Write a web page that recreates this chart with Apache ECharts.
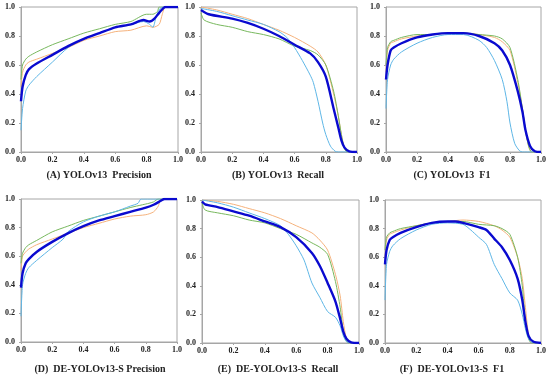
<!DOCTYPE html>
<html><head><meta charset="utf-8">
<script src="https://cdn.jsdelivr.net/npm/echarts@6/dist/echarts.min.js"></script>
<style>html,body{margin:0;padding:0;background:#fff}#c{width:550px;height:379px}</style>
</head><body><div id="c"></div>
<script>
// Panel titles
const titles = ["(A) YOLOv13  Precision", "(B) YOLOv13  Recall", "(C) YOLOv13  F1",
  "(D)  DE-YOLOv13-S Precision", "(E)  DE-YOLOv13-S  Recall", "(F)  DE-YOLOv13-S  F1"];
const tickLabels = ["0.0", "0.2", "0.4", "0.6", "0.8", "1.0"];

// Panel A: YOLOv13 Precision  ([confidence, value])
const aOrange = [[0,0.45],[0.01,0.55],[0.03,0.6],[0.05,0.62],[0.1,0.64],[0.2,0.68],[0.3,0.72],[0.4,0.77],[0.5,0.8],[0.6,0.83],[0.7,0.84],[0.8,0.87],[0.84,0.86],[0.88,0.88],[0.9,0.95],[0.92,1.0],[1,1]];
const aGreen = [[0,0.5],[0.01,0.6],[0.03,0.64],[0.05,0.66],[0.1,0.69],[0.2,0.74],[0.3,0.78],[0.4,0.82],[0.5,0.85],[0.6,0.88],[0.7,0.9],[0.8,0.95],[0.84,0.95],[0.87,0.97],[0.88,1.0],[1,1]];
const aLight = [[0,0.15],[0.01,0.3],[0.03,0.42],[0.05,0.46],[0.1,0.52],[0.2,0.62],[0.3,0.72],[0.4,0.78],[0.5,0.82],[0.6,0.86],[0.7,0.88],[0.78,0.9],[0.82,0.88],[0.84,0.86],[0.86,0.93],[0.88,0.98],[0.9,1.0],[1,1]];
const aMean = [[0,0.35],[0.01,0.45],[0.03,0.53],[0.05,0.57],[0.1,0.61],[0.2,0.67],[0.3,0.73],[0.4,0.78],[0.5,0.82],[0.6,0.86],[0.7,0.88],[0.78,0.91],[0.82,0.9],[0.85,0.92],[0.88,0.96],[0.92,1.0],[1,1]];

// Panel B: YOLOv13 Recall
const bOrange = [[0,1.0],[0.1,0.98],[0.2,0.95],[0.3,0.92],[0.4,0.88],[0.5,0.84],[0.6,0.79],[0.7,0.73],[0.75,0.69],[0.8,0.6],[0.85,0.4],[0.88,0.25],[0.9,0.12],[0.92,0.03],[0.94,0],[1,0]];
const bGreen = [[0,0.96],[0.02,0.91],[0.1,0.88],[0.2,0.86],[0.3,0.83],[0.4,0.81],[0.5,0.78],[0.6,0.73],[0.7,0.7],[0.75,0.67],[0.8,0.6],[0.85,0.42],[0.88,0.25],[0.9,0.12],[0.92,0.02],[0.94,0],[1,0]];
const bLight = [[0,0.99],[0.1,0.97],[0.2,0.94],[0.3,0.91],[0.4,0.88],[0.5,0.83],[0.55,0.79],[0.6,0.72],[0.65,0.63],[0.7,0.53],[0.72,0.48],[0.75,0.35],[0.78,0.2],[0.8,0.12],[0.83,0.04],[0.86,0.005],[0.88,0],[1,0]];
const bMean = [[0,0.98],[0.05,0.95],[0.2,0.92],[0.3,0.89],[0.4,0.85],[0.5,0.8],[0.6,0.74],[0.7,0.68],[0.75,0.62],[0.8,0.52],[0.85,0.3],[0.88,0.17],[0.9,0.08],[0.92,0.03],[0.95,0.005],[1,0]];

// Panel C: YOLOv13 F1
const cOrange = [[0,0.55],[0.01,0.7],[0.03,0.75],[0.05,0.76],[0.1,0.78],[0.2,0.8],[0.3,0.81],[0.4,0.82],[0.5,0.82],[0.6,0.81],[0.7,0.79],[0.75,0.76],[0.8,0.7],[0.85,0.48],[0.88,0.3],[0.9,0.15],[0.92,0.04],[0.94,0],[1,0]];
const cGreen = [[0,0.6],[0.01,0.72],[0.03,0.76],[0.05,0.77],[0.1,0.79],[0.2,0.81],[0.3,0.81],[0.4,0.82],[0.5,0.82],[0.6,0.81],[0.7,0.8],[0.75,0.78],[0.8,0.72],[0.85,0.5],[0.88,0.3],[0.9,0.15],[0.92,0.04],[0.94,0],[1,0]];
const cLight = [[0,0.3],[0.01,0.5],[0.03,0.6],[0.05,0.64],[0.1,0.69],[0.2,0.75],[0.3,0.79],[0.4,0.81],[0.5,0.81],[0.6,0.77],[0.65,0.72],[0.7,0.63],[0.75,0.5],[0.78,0.35],[0.8,0.2],[0.83,0.06],[0.86,0.01],[0.88,0],[1,0]];
const cMean = [[0,0.5],[0.01,0.6],[0.03,0.7],[0.05,0.72],[0.1,0.75],[0.2,0.79],[0.3,0.81],[0.4,0.82],[0.5,0.82],[0.6,0.8],[0.7,0.75],[0.75,0.7],[0.8,0.6],[0.85,0.42],[0.88,0.28],[0.9,0.15],[0.93,0.04],[0.96,0.005],[1,0]];

// Panel D: DE-YOLOv13-S Precision
const dOrange = [[0,0.5],[0.01,0.6],[0.03,0.63],[0.05,0.65],[0.1,0.68],[0.2,0.72],[0.3,0.76],[0.4,0.8],[0.5,0.83],[0.6,0.86],[0.7,0.88],[0.8,0.89],[0.85,0.91],[0.88,0.95],[0.9,1.0],[1,1]];
const dGreen = [[0,0.55],[0.01,0.62],[0.03,0.66],[0.05,0.68],[0.1,0.71],[0.2,0.77],[0.3,0.81],[0.4,0.85],[0.5,0.88],[0.6,0.91],[0.7,0.94],[0.78,0.96],[0.82,0.97],[0.85,0.98],[0.88,1.0],[1,1]];
const dLight = [[0,0.18],[0.01,0.4],[0.03,0.48],[0.05,0.52],[0.1,0.57],[0.2,0.66],[0.27,0.72],[0.3,0.77],[0.4,0.84],[0.5,0.88],[0.6,0.91],[0.7,0.95],[0.75,0.97],[0.77,1.0],[1,1]];
const dMean = [[0,0.38],[0.01,0.48],[0.03,0.55],[0.05,0.58],[0.1,0.63],[0.2,0.7],[0.3,0.76],[0.4,0.81],[0.5,0.85],[0.6,0.88],[0.7,0.91],[0.8,0.94],[0.85,0.96],[0.9,0.99],[0.92,1.0],[1,1]];

// Panel E: DE-YOLOv13-S Recall
const eOrange = [[0,1.0],[0.1,0.99],[0.2,0.97],[0.3,0.94],[0.4,0.91],[0.5,0.87],[0.6,0.82],[0.7,0.77],[0.75,0.72],[0.8,0.65],[0.85,0.48],[0.88,0.33],[0.9,0.15],[0.92,0.03],[0.94,0],[1,0]];
const eGreen = [[0,0.98],[0.02,0.93],[0.1,0.91],[0.2,0.89],[0.3,0.86],[0.4,0.84],[0.5,0.8],[0.6,0.76],[0.7,0.7],[0.75,0.67],[0.8,0.62],[0.85,0.43],[0.88,0.25],[0.9,0.08],[0.92,0.01],[0.94,0],[1,0]];
const eLight = [[0,1.0],[0.1,0.98],[0.2,0.95],[0.3,0.91],[0.4,0.87],[0.5,0.82],[0.55,0.76],[0.6,0.68],[0.65,0.58],[0.7,0.42],[0.75,0.32],[0.8,0.22],[0.85,0.18],[0.88,0.12],[0.9,0.05],[0.92,0.01],[0.95,0],[1,0]];
const eMean = [[0,0.99],[0.02,0.97],[0.1,0.95],[0.2,0.92],[0.3,0.89],[0.4,0.85],[0.5,0.81],[0.6,0.74],[0.7,0.63],[0.75,0.54],[0.8,0.42],[0.85,0.29],[0.88,0.17],[0.9,0.08],[0.92,0.03],[0.95,0.005],[1,0]];

// Panel F: DE-YOLOv13-S F1
const fOrange = [[0,0.6],[0.01,0.72],[0.03,0.76],[0.05,0.77],[0.1,0.79],[0.2,0.82],[0.3,0.84],[0.4,0.85],[0.5,0.86],[0.6,0.85],[0.7,0.82],[0.75,0.79],[0.8,0.74],[0.85,0.6],[0.88,0.45],[0.9,0.25],[0.92,0.06],[0.94,0],[1,0]];
const fGreen = [[0,0.65],[0.01,0.74],[0.03,0.77],[0.05,0.78],[0.1,0.8],[0.2,0.82],[0.3,0.84],[0.4,0.85],[0.5,0.85],[0.6,0.83],[0.7,0.82],[0.75,0.8],[0.8,0.76],[0.85,0.6],[0.88,0.4],[0.9,0.15],[0.92,0.03],[0.94,0],[1,0]];
const fLight = [[0,0.3],[0.01,0.55],[0.03,0.64],[0.05,0.68],[0.1,0.73],[0.2,0.79],[0.3,0.83],[0.4,0.84],[0.5,0.83],[0.55,0.79],[0.6,0.74],[0.65,0.69],[0.7,0.55],[0.75,0.45],[0.8,0.35],[0.85,0.3],[0.88,0.2],[0.9,0.1],[0.92,0.03],[0.95,0],[1,0]];
const fMean = [[0,0.55],[0.01,0.65],[0.03,0.72],[0.05,0.74],[0.1,0.77],[0.2,0.81],[0.3,0.84],[0.4,0.85],[0.45,0.85],[0.5,0.84],[0.6,0.81],[0.65,0.79],[0.7,0.73],[0.75,0.67],[0.8,0.58],[0.85,0.45],[0.88,0.3],[0.9,0.15],[0.92,0.05],[0.95,0.01],[1,0]];

const panels = [
  [aOrange, aGreen, aLight, aMean], [bOrange, bGreen, bLight, bMean], [cOrange, cGreen, cLight, cMean],
  [dOrange, dGreen, dLight, dMean], [eOrange, eGreen, eLight, eMean], [fOrange, fGreen, fLight, fMean]
];

// layout
const boxes = [
  {l:21, t:7, w:157, h:145, tx:99, ty:175},
  {l:201, t:7, w:156, h:145, tx:278, ty:175},
  {l:386, t:7, w:155, h:145, tx:452, ty:175},
  {l:21, t:199, w:156, h:143, tx:100, ty:369},
  {l:202, t:200, w:157, h:143, tx:278, ty:369},
  {l:385, t:200, w:156, h:143, tx:452, ty:369}
];
const colors = ['#F5B27C', '#78B85E', '#5EB6E6', '#0A0ACF'];
const widths = [1, 1, 1, 2.4];
const FONT = '"Liberation Serif", "Times New Roman", serif';
const gridC = '#A6A6A6';

const grid = [], xAxis = [], yAxis = [], series = [], graphic = [];
boxes.forEach((b, i) => {
  grid.push({left: b.l, top: b.t, width: b.w, height: b.h, show: true, borderColor: gridC, borderWidth: 1, backgroundColor: '#fff'});
  const axCommon = {
    gridIndex: i, type: 'value', min: 0, max: 1, interval: 0.2,
    axisLine: {show: true, lineStyle: {color: gridC, width: 1}},
    axisTick: {show: true, length: 2, lineStyle: {color: gridC}},
    splitLine: {show: false},
    axisLabel: {fontFamily: FONT, fontWeight: 'bold', fontSize: 8, color: '#222', margin: 4,
      formatter: v => tickLabels[Math.round(v * 5)]}
  };
  xAxis.push(Object.assign({}, axCommon));
  yAxis.push(Object.assign({}, axCommon, {axisLabel: Object.assign({}, axCommon.axisLabel, {margin: 6})}));
  panels[i].forEach((d, k) => {
    series.push({type: 'line', xAxisIndex: i, yAxisIndex: i, data: d, showSymbol: false, symbol: 'none',
      smooth: 0.25, z: k === 3 ? 5 : 2,
      lineStyle: {color: colors[k], width: widths[k]}, animation: false});
  });
  graphic.push({type: 'text', x: b.tx, y: b.ty, style: {text: titles[i], textAlign: 'center', textVerticalAlign: 'middle',
    font: 'bold 10px ' + FONT, fill: '#222'}});
});

const chart = echarts.init(document.getElementById('c'), null, {renderer: 'canvas'});
chart.setOption({animation: false, backgroundColor: '#fff', grid, xAxis, yAxis, series, graphic});
</script></body></html>
